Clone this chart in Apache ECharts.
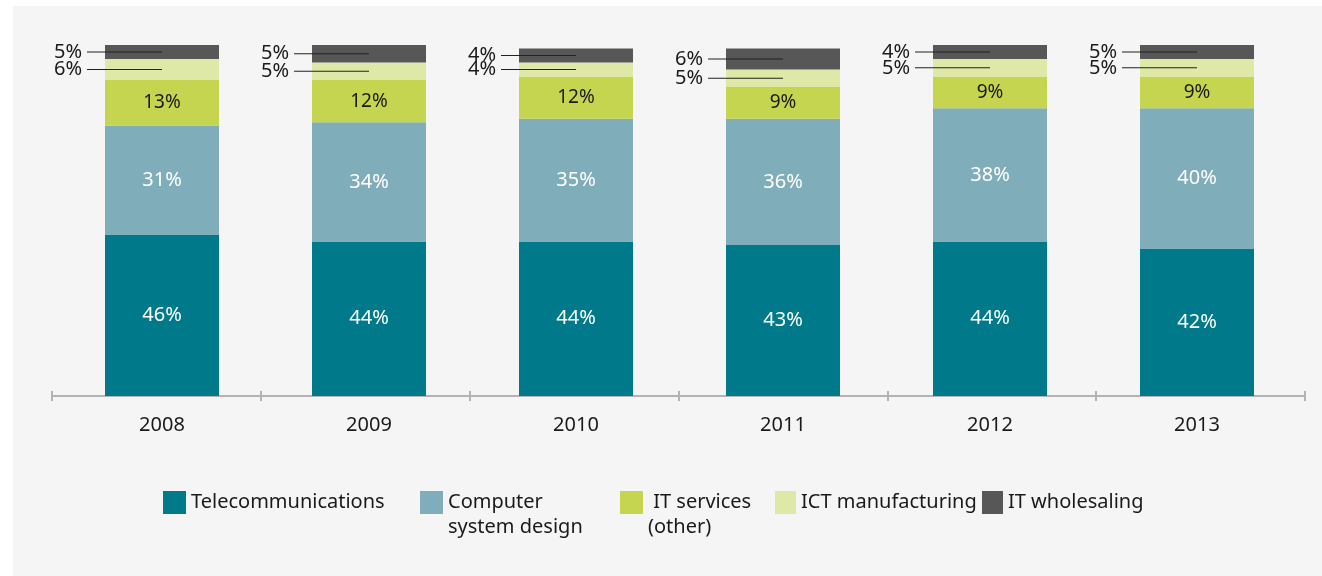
<!DOCTYPE html>
<html>
<head>
<meta charset="utf-8">
<script src="https://cdn.jsdelivr.net/npm/echarts@6/dist/echarts.min.js"></script>
<style>
  html, body { margin: 0; padding: 0; background: #ffffff; }
  #chart { width: 1322px; height: 576px; }
</style>
</head>
<body>
<div id="chart"></div>
<script>
// Share of ICT sector by sub-sector, per year (%)
const years = ['2008', '2009', '2010', '2011', '2012', '2013'];
const telecommunications = [46, 44, 44, 43, 44, 42];
const computerSystemDesign = [31, 34, 35, 36, 38, 40];
const itServicesOther = [13, 12, 12, 9, 9, 9];
const ictManufacturing = [6, 5, 4, 5, 5, 5];
const itWholesaling = [5, 5, 4, 6, 4, 5];

const seriesNames = ['Telecommunications', 'Computer system design', 'IT services (other)', 'ICT manufacturing', 'IT wholesaling'];
// a blank first line keeps the first text line level with the legend swatch
const legendText = ['Telecommunications', ' \nComputer\nsystem design', ' \n IT services\n(other)', 'ICT manufacturing', 'IT wholesaling'];
const colors = ['#00798a', '#80adba', '#c5d54f', '#dfe9a7', '#575757'];

const FONT = 'Noto Sans';

const insideLabel = (color, size) => ({
  show: true,
  position: 'inside',
  formatter: '{c}%',
  color: color,
  fontSize: size,
  fontFamily: FONT
});

// small segments: value on the left with a leader line into the bar
const leaderLabel = {
  show: true,
  position: ['50%', '50%'],
  align: 'right',
  verticalAlign: 'middle',
  formatter: '{t|{c}%}{l| }',
  rich: {
    t: { fontSize: 20, color: '#1a1a1a', fontFamily: FONT, padding: [0, 5, 0, 0] },
    l: { width: 75, height: 1, backgroundColor: '#222222', fontSize: 1 }
  }
};

const chart = echarts.init(document.getElementById('chart'), null, { renderer: 'canvas' });

const legendLeft = [163, 420, 620, 775, 982];
const legendTop = [490, 465, 465, 490, 490];

const tickStyle = { color: '#b3b3b3', width: 2 };

chart.setOption({
  backgroundColor: '#ffffff',
  animation: false,
  graphic: [{
    type: 'rect',
    left: 13, top: 6,
    shape: { width: 1309, height: 570 },
    style: { fill: '#f5f5f5' },
    z: -10
  }],
  grid: [
    // bars and year labels
    { left: 58.5, right: 21.5, top: 45, bottom: 180 },
    // baseline with boundary ticks
    { left: 52, right: 17, top: 45, bottom: 180 }
  ],
  legend: seriesNames.map((n, i) => ({
    data: [n],
    left: legendLeft[i],
    top: legendTop[i],
    padding: 0,
    itemWidth: i >= 3 ? 21 : 23,
    itemHeight: 23,
    icon: 'rect',
    formatter: () => legendText[i],
    textStyle: { fontSize: 20, color: '#1a1a1a', fontFamily: FONT, lineHeight: 25 },
    selectedMode: false
  })),
  xAxis: [{
    type: 'category',
    gridIndex: 0,
    data: years,
    axisLine: { show: false },
    axisTick: { show: false },
    axisLabel: { fontSize: 20, color: '#1a1a1a', fontFamily: FONT, margin: 19 }
  }, {
    type: 'category',
    gridIndex: 1,
    data: years,
    position: 'bottom',
    axisLine: { lineStyle: tickStyle },
    axisTick: { show: true, length: 5, lineStyle: tickStyle },
    axisLabel: { show: false }
  }, {
    type: 'category',
    gridIndex: 1,
    data: years,
    position: 'bottom',
    axisLine: { show: false },
    axisTick: { show: true, inside: true, length: 5, lineStyle: tickStyle },
    axisLabel: { show: false }
  }],
  yAxis: [
    { type: 'value', gridIndex: 0, min: 0, max: 100, show: false, splitLine: { show: false } },
    { type: 'value', gridIndex: 1, min: 0, max: 100, show: false, splitLine: { show: false } }
  ],
  series: [
    { name: seriesNames[0], type: 'bar', stack: 'a', barWidth: 114, data: telecommunications, itemStyle: { color: colors[0] }, label: insideLabel('#ffffff', 20) },
    { name: seriesNames[1], type: 'bar', stack: 'a', barWidth: 114, data: computerSystemDesign, itemStyle: { color: colors[1] }, label: insideLabel('#ffffff', 20) },
    { name: seriesNames[2], type: 'bar', stack: 'a', barWidth: 114, data: itServicesOther, itemStyle: { color: colors[2] }, label: insideLabel('#1a1a1a', 19) },
    { name: seriesNames[3], type: 'bar', stack: 'a', barWidth: 114, data: ictManufacturing, itemStyle: { color: colors[3] }, label: leaderLabel },
    { name: seriesNames[4], type: 'bar', stack: 'a', barWidth: 114, data: itWholesaling, itemStyle: { color: colors[4] }, label: leaderLabel }
  ]
});
</script>
</body>
</html>
